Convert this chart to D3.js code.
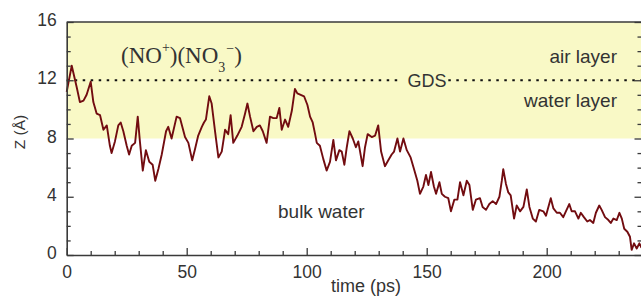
<!DOCTYPE html>
<html>
<head>
<meta charset="utf-8">
<script src="https://cdn.jsdelivr.net/npm/d3@7"></script>
<style>
  html, body { margin: 0; padding: 0; background: #fff; }
  svg { display: block; }
  text { font-family: "Liberation Sans", Arial, sans-serif; fill: #333; }
</style>
</head>
<body>
<svg id="chart" width="641" height="297"></svg>
<script>
// ---- data ----
const timePs = [0, 2.1, 3.5, 4.2, 5.5, 7, 8.3, 10, 11.1, 12.5, 13.9, 15.3, 16.7, 18, 18.7, 20.1, 21.5, 22.5, 23.6, 25, 26, 27.1, 28.5, 29.6, 30.5, 31.7, 33, 34.4, 35.8, 36.9, 38.2, 39.6, 41.4, 42.3, 43.7, 45.8, 47.2, 49.3, 50.7, 52.3, 53.5, 54.8, 56.3, 57.2, 58, 59.4, 60.4, 61.8, 63.2, 64.6, 66, 67.3, 68.3, 69.4, 71.1, 72.9, 74.3, 75.3, 76.4, 77.8, 79.2, 80.5, 81.7, 83.3, 84.7, 86.1, 87.5, 88.6, 89.6, 91, 92.3, 93.8, 95.1, 96.1, 97.5, 98.9, 100.3, 101.4, 102.5, 103.5, 104.2, 105.5, 106.9, 108.3, 109.7, 111.1, 112.2, 113.6, 114.6, 115.7, 116.7, 117.8, 119.2, 120.5, 121.5, 123.3, 124.3, 125.4, 127.1, 128.5, 129.8, 131, 132.6, 134, 135.4, 136.4, 137.8, 138.9, 140.3, 141.7, 143.3, 144.7, 146.1, 147.2, 148.6, 149.7, 150.7, 151.8, 153, 153.9, 155.3, 156.3, 157.6, 159, 160.1, 161.5, 162.8, 163.9, 165.3, 166.7, 167.8, 169.2, 170.5, 172.2, 173.3, 174.7, 176.1, 177.5, 178.9, 180.3, 181.3, 181.9, 183, 184, 185, 186.4, 187.5, 188.9, 190.3, 191.7, 192.8, 194.2, 195.5, 196.9, 198.6, 199.7, 200.7, 201.7, 202.8, 204.2, 205.5, 206.9, 208, 209.4, 210.4, 211.8, 213.2, 214.2, 215.5, 216.9, 218, 219.4, 220.5, 221.9, 222.9, 224.3, 225.7, 226.7, 227.8, 229.2, 230.3, 231.3, 232.3, 233.6, 234.7, 235.4, 236.4, 237.5, 238.6, 239.5];
const zA = [11.2, 13.0, 12.0, 11.5, 10.5, 10.6, 11.0, 11.9, 10.5, 9.7, 9.6, 8.6, 8.9, 7.5, 7.0, 7.8, 8.9, 9.1, 8.5, 7.5, 6.9, 7.5, 7.7, 9.5, 7.8, 5.8, 7.2, 6.4, 6.2, 5.1, 5.9, 6.9, 8.5, 8.8, 8.0, 9.5, 9.4, 8.1, 7.7, 6.5, 7.3, 8.2, 8.8, 9.1, 9.3, 10.9, 10.4, 8.5, 6.7, 7.1, 8.6, 8.3, 9.6, 7.7, 8.2, 8.8, 9.7, 10.4, 9.5, 8.5, 8.8, 8.9, 8.5, 7.7, 9.5, 9.4, 9.4, 10.1, 8.6, 9.3, 8.8, 9.9, 11.4, 11.1, 11.0, 10.9, 10.3, 9.5, 9.1, 8.3, 7.7, 7.5, 6.6, 5.8, 6.4, 7.9, 6.5, 7.2, 7.1, 6.2, 7.4, 8.5, 8.0, 7.4, 7.8, 6.1, 7.4, 8.3, 8.1, 8.2, 8.9, 7.1, 6.1, 6.5, 6.9, 7.1, 8.0, 7.1, 8.0, 7.2, 6.7, 5.9, 5.1, 4.2, 4.7, 5.5, 4.8, 5.7, 4.7, 4.2, 5.0, 4.2, 4.0, 3.9, 3.0, 3.8, 3.8, 5.0, 4.1, 5.1, 4.8, 3.1, 3.8, 3.9, 3.3, 3.1, 3.5, 3.7, 3.5, 4.0, 5.1, 5.9, 4.9, 4.3, 4.1, 2.5, 3.4, 3.0, 3.3, 4.5, 3.3, 2.5, 2.3, 3.1, 3.0, 2.7, 3.3, 3.9, 3.2, 2.9, 2.9, 2.6, 3.0, 3.5, 3.0, 3.0, 2.5, 2.9, 2.6, 2.3, 2.4, 2.2, 2.9, 3.4, 3.1, 2.6, 2.4, 2.2, 2.5, 2.4, 2.9, 2.5, 1.8, 1.6, 1.25, 0.35, 0.8, 0.45, 0.8, 0.5];
const xTicks = [0, 50, 100, 150, 200];
const yTicks = [0, 4, 8, 12, 16];
const interfaceRegion = [8, 16];   // yellow band (Å)
const gdsLevel = 12;               // Gibbs dividing surface (Å)

// ---- layout ----
const svg = d3.select("#chart");
const x = d3.scaleLinear().domain([0, 239.5]).range([66.7, 641.5]);
const y = d3.scaleLinear().domain([0, 16]).range([255, 22]);
const axisColor = "#3a3a3a";

// yellow band
svg.append("rect")
  .attr("x", x(0)).attr("y", y(interfaceRegion[1]))
  .attr("width", x(239.5) - x(0))
  .attr("height", y(interfaceRegion[0]) - y(interfaceRegion[1]))
  .attr("fill", "#f9f9c6");

// GDS dotted line (broken around label)
const gdsSegs = [[0, 140], [159, 239.5]];
gdsSegs.forEach(s => {
  svg.append("line")
    .attr("x1", x(s[0])).attr("x2", x(s[1]))
    .attr("y1", y(gdsLevel)).attr("y2", y(gdsLevel))
    .attr("stroke", "#111").attr("stroke-width", 2)
    .attr("stroke-dasharray", "2.5,5.5");
});

// data line
const line = d3.line().x((d, i) => x(timePs[i])).y(d => y(d));
svg.append("path")
  .datum(zA)
  .attr("d", line)
  .attr("fill", "none")
  .attr("stroke", "#720c10")
  .attr("stroke-width", 1.9)
  .attr("stroke-linejoin", "round");

// ---- axes ----
function styleAxis(g) {
  g.selectAll("path.domain").attr("stroke", axisColor).attr("stroke-width", 1.6);
  g.selectAll(".tick line").attr("stroke", axisColor).attr("stroke-width", 1.3);
  g.selectAll("text").attr("fill", "#333").style("font-family", '"Liberation Sans", Arial, sans-serif').style("font-size", "17.5px");
}
const minorX = d3.range(0, 240, 10).filter(v => !xTicks.includes(v));
const minorY = d3.range(0, 17, 1).filter(v => !yTicks.includes(v));

// bottom major
const gx = svg.append("g").attr("transform", `translate(0,${y(0)})`)
  .call(d3.axisBottom(x).tickValues(xTicks).tickSize(-7).tickPadding(11).tickSizeOuter(0));
styleAxis(gx);
// bottom minor
const gxm = svg.append("g").attr("transform", `translate(0,${y(0)})`)
  .call(d3.axisBottom(x).tickValues(minorX).tickSize(-4).tickFormat("").tickSizeOuter(0));
styleAxis(gxm); gxm.select("path.domain").remove();

// left major
const gy = svg.append("g").attr("transform", `translate(${x(0)},0)`)
  .call(d3.axisLeft(y).tickValues(yTicks).tickSize(-7).tickPadding(10).tickSizeOuter(0));
styleAxis(gy);
gy.selectAll("text").attr("dy", "0.2em");
const gym = svg.append("g").attr("transform", `translate(${x(0)},0)`)
  .call(d3.axisLeft(y).tickValues(minorY).tickSize(-4).tickFormat("").tickSizeOuter(0));
styleAxis(gym); gym.select("path.domain").remove();

// right axis ticks
const gr = svg.append("g").attr("transform", `translate(${x(239.5)},0)`)
  .call(d3.axisRight(y).tickValues(yTicks).tickSize(-7).tickFormat("").tickSizeOuter(0));
styleAxis(gr);
const grm = svg.append("g").attr("transform", `translate(${x(239.5)},0)`)
  .call(d3.axisRight(y).tickValues(minorY).tickSize(-4).tickFormat("").tickSizeOuter(0));
styleAxis(grm); grm.select("path.domain").remove();

// top frame
svg.append("line")
  .attr("x1", x(0)).attr("x2", x(239.5))
  .attr("y1", y(16)).attr("y2", y(16))
  .attr("stroke", axisColor).attr("stroke-width", 1.6);

// ---- labels ----
svg.append("text").attr("x", 366).attr("y", 292)
  .attr("text-anchor", "middle").style("font-size", "18px").text("time (ps)");

svg.append("text")
  .attr("transform", `translate(25,132) rotate(-90)`)
  .attr("text-anchor", "middle").style("font-size", "15.5px").text("Z (Å)");

svg.append("text").attr("x", 617).attr("y", 63)
  .attr("text-anchor", "end").style("font-size", "19px").text("air layer");
svg.append("text").attr("x", 617).attr("y", 107)
  .attr("text-anchor", "end").style("font-size", "19px").text("water layer");
svg.append("text").attr("x", 427).attr("y", 87)
  .attr("text-anchor", "middle").style("font-size", "18px").text("GDS");
svg.append("text").attr("x", 278).attr("y", 218)
  .style("font-size", "19px").text("bulk water");

// species label (serif)
const sp = svg.append("text").attr("x", 121).attr("y", 63)
  .style("font-family", '"Liberation Serif", "Times New Roman", serif')
  .style("font-size", "23px").attr("fill", "#222");
sp.append("tspan").text("(NO");
sp.append("tspan").attr("dy", -11).style("font-size", "14px").text("+");
sp.append("tspan").attr("dy", 11).text(")(NO");
sp.append("tspan").attr("dy", 9).style("font-size", "14px").text("3");
sp.append("tspan").attr("dy", -19).attr("dx", 1).style("font-size", "14px").text("\u2212");
sp.append("tspan").attr("dy", 10).text(")");
</script>
</body>
</html>
